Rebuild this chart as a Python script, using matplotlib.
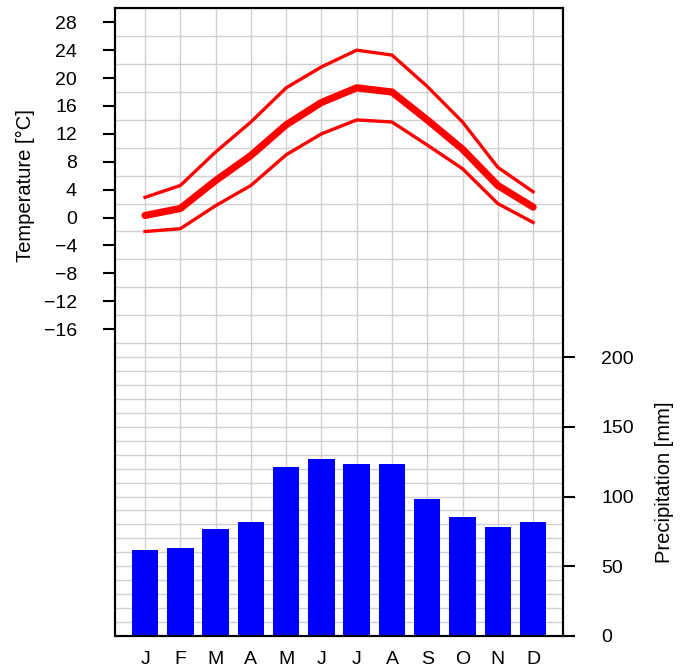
import numpy as np
import matplotlib
matplotlib.use("Agg")
import matplotlib.pyplot as plt

plt.rcParams['font.family'] = ['Liberation Sans', 'DejaVu Sans']

# Data
months = ["J", "F", "M", "A", "M", "J", "J", "A", "S", "O", "N", "D"]
t_mean = [0.3, 1.3, 5.3, 8.9, 13.3, 16.5, 18.6, 18.0, 14.0, 9.8, 4.6, 1.5]
t_max = [2.9, 4.6, 9.4, 13.7, 18.6, 21.6, 24.0, 23.3, 18.8, 13.7, 7.2, 3.7]
t_min = [-2.0, -1.6, 1.7, 4.6, 9.0, 12.0, 14.0, 13.7, 10.4, 7.0, 2.0, -0.7]
precip = [62, 63, 77, 82, 121, 127, 123, 123, 98, 85, 78, 82]

x = np.arange(1, 13)

fig = plt.figure(figsize=(6.85, 6.72), dpi=100)
ax = fig.add_axes([0.168, 0.0536, 0.654, 0.934])
ax2 = ax.twinx()

# Temperature axis
ax.set_xlim(0.15, 12.85)
ax.set_ylim(-60, 30)
ax.set_yticks(np.arange(-16, 29, 4))
ax.set_yticks(np.arange(-60, 31, 2), minor=True)
ax.set_xticks(x)
ax.set_xticklabels(months)
ax.tick_params(axis='x', length=0, pad=11, labelsize=14)
ax.tick_params(axis='y', which='major', length=8.5, width=1.5, labelsize=14, pad=19)
ax.tick_params(axis='y', which='minor', length=0)
ax.grid(axis='x', color='#d0d0d0', linewidth=1)
ax.grid(axis='y', which='minor', color='#d0d0d0', linewidth=1)
ax.set_axisbelow(True)

ax.plot(x, t_max, color='red', linewidth=2.4)
ax.plot(x, t_min, color='red', linewidth=2.4)
ax.plot(x, t_mean, color='red', linewidth=5.2, solid_capstyle='round')

ax.set_ylabel("Temperature [°C]", fontsize=14.5)
ax.yaxis.set_label_coords(-0.178, 0.718)

# Precipitation axis
ax2.set_ylim(0, 450)
ax2.set_yticks(np.arange(0, 201, 50))
ax2.tick_params(axis='y', length=8.5, width=1.5, labelsize=14, pad=19)
ax2.bar(x, precip, width=0.75, color='blue')
ax2.set_ylabel("Precipitation [mm]", fontsize=14.5)
ax2.yaxis.set_label_coords(1.205, 0.245)

for a in (ax, ax2):
    for s in a.spines.values():
        s.set_linewidth(1.5)

fig.savefig("out.png", dpi=100)
